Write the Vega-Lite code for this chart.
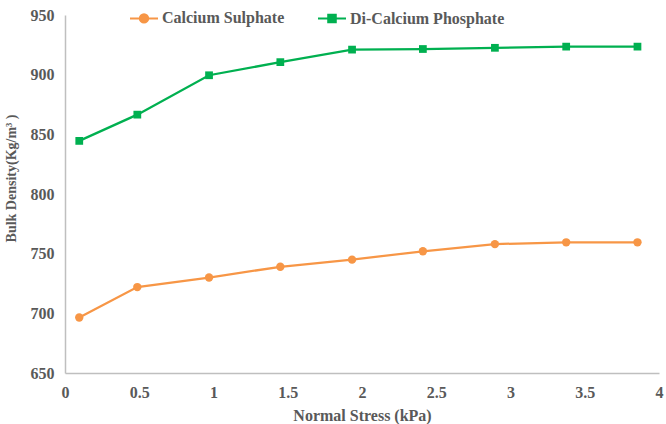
{
  "$schema": "https://vega.github.io/schema/vega-lite/v6.json",
  "width": 594,
  "height": 358,
  "autosize": "none",
  "padding": {"left": 65, "top": 15, "right": 7, "bottom": 51},
  "background": "white",
  "config": {
    "view": {"stroke": null},
    "font": "'Liberation Serif', 'Times New Roman', serif",
    "axis": {
      "grid": false,
      "ticks": false,
      "domainColor": "#BFBFBF",
      "domainWidth": 1.5,
      "labelColor": "#595959",
      "labelFont": "'Liberation Serif', 'Times New Roman', serif",
      "labelFontSize": 16,
      "labelFontWeight": "bold",
      "titleColor": "#595959",
      "titleFont": "'Liberation Serif', 'Times New Roman', serif",
      "titleFontSize": 16,
      "titleFontWeight": "bold"
    },
    "legend": {
      "labelColor": "#595959",
      "labelFont": "'Liberation Serif', 'Times New Roman', serif",
      "labelFontSize": 16,
      "labelFontWeight": "bold"
    }
  },
  "data": {
    "values": [
      {"stress": 0.096, "density": 696.5, "material": "Calcium Sulphate"},
      {"stress": 0.487, "density": 722, "material": "Calcium Sulphate"},
      {"stress": 0.97, "density": 730, "material": "Calcium Sulphate"},
      {"stress": 1.45, "density": 739, "material": "Calcium Sulphate"},
      {"stress": 1.933, "density": 745, "material": "Calcium Sulphate"},
      {"stress": 2.41, "density": 752, "material": "Calcium Sulphate"},
      {"stress": 2.895, "density": 758, "material": "Calcium Sulphate"},
      {"stress": 3.375, "density": 759.5, "material": "Calcium Sulphate"},
      {"stress": 3.855, "density": 759.5, "material": "Calcium Sulphate"},
      {"stress": 0.096, "density": 844.5, "material": "Di-Calcium Phosphate"},
      {"stress": 0.487, "density": 866.5, "material": "Di-Calcium Phosphate"},
      {"stress": 0.97, "density": 899.5, "material": "Di-Calcium Phosphate"},
      {"stress": 1.45, "density": 910.5, "material": "Di-Calcium Phosphate"},
      {"stress": 1.933, "density": 921, "material": "Di-Calcium Phosphate"},
      {"stress": 2.41, "density": 921.5, "material": "Di-Calcium Phosphate"},
      {"stress": 2.895, "density": 922.5, "material": "Di-Calcium Phosphate"},
      {"stress": 3.375, "density": 923.5, "material": "Di-Calcium Phosphate"},
      {"stress": 3.855, "density": 923.5, "material": "Di-Calcium Phosphate"}
    ]
  },
  "encoding": {
    "x": {
      "field": "stress",
      "type": "quantitative",
      "scale": {"domain": [0, 4], "nice": false},
      "axis": {"title": "Normal Stress (kPa)", "values": [0, 0.5, 1, 1.5, 2, 2.5, 3, 3.5, 4], "format": "~g", "labelPadding": 11, "titlePadding": 7, "labelFlush": false}
    },
    "y": {
      "field": "density",
      "type": "quantitative",
      "scale": {"domain": [650, 950], "nice": false, "zero": false},
      "axis": {"title": "Bulk Density(Kg/m³ )", "titleFontSize": 14, "titleY": 163, "values": [650, 700, 750, 800, 850, 900, 950], "labelPadding": 11, "titlePadding": 12, "labelFlush": false}
    },
    "color": {
      "field": "material",
      "type": "nominal",
      "scale": {"domain": ["Calcium Sulphate", "Di-Calcium Phosphate"], "range": ["#F79646", "#00B050"]}
    }
  },
  "layer": [
    {
      "mark": {"type": "line", "strokeWidth": 2.25},
      "encoding": {
        "color": {
          "field": "material",
          "type": "nominal",
          "scale": {"domain": ["Calcium Sulphate", "Di-Calcium Phosphate"], "range": ["#F79646", "#00B050"]},
          "legend": {
            "title": null,
            "orient": "none",
            "direction": "horizontal",
            "legendX": 64,
            "legendY": -12,
            "padding": 0,
            "symbolSize": 784,
            "symbolStrokeWidth": 2,
            "labelOffset": 3,
            "columnPadding": 29,
            "encode": {
              "symbols": {
                "update": {
                  "shape": {"signal": "datum.value === 'Calcium Sulphate' ? 'M-1,0H1M-0.3,0A0.3,0.3 0 1,1 0.3,0A0.3,0.3 0 1,1 -0.3,0Z' : 'M-1,0H1M-0.27,-0.27H0.27V0.27H-0.27Z'"},
                  "fill": {"scale": "color", "field": "value"},
                  "fillOpacity": {"value": 1}
                }
              }
            }
          }
        }
      }
    },
    {
      "transform": [{"filter": "datum.material === 'Calcium Sulphate'"}],
      "mark": {"type": "point", "shape": "circle", "filled": true, "opacity": 1, "size": 70}
    },
    {
      "transform": [{"filter": "datum.material === 'Di-Calcium Phosphate'"}],
      "mark": {"type": "point", "shape": "square", "filled": true, "opacity": 1, "size": 60}
    }
  ]
}
